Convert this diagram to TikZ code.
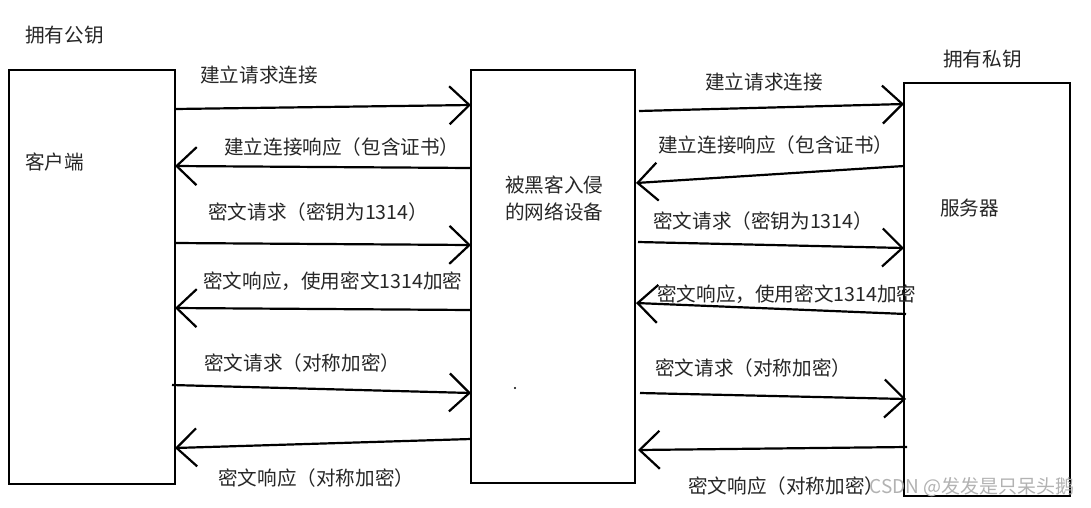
\documentclass[tikz,border=0pt]{standalone}
\usepackage{fontspec}
\newfontfamily\cjk{Noto Sans CJK SC}
\usetikzlibrary{arrows.meta,calc}
\tikzset{
  box/.style={draw, line width=2.4pt, outer sep=0pt, inner sep=0pt},
  arr/.style={line width=2.2pt, -{Straight Barb[length=20pt,width=38pt]}},
  lbl/.style={anchor=west, inner sep=0pt, text=black!85, font=\cjk\fontsize{19.6}{27}\selectfont},
  wmark/.style={inner sep=0pt, text=gray!60, font=\cjk\fontsize{19}{24}\selectfont}
}
\begin{document}
\begin{tikzpicture}[x=1pt,y=-1pt]
\useasboundingbox[fill=white] (0,0) rectangle (1091,507);
% boxes
\node[box, minimum width=166pt, minimum height=414pt] (client) at (92,277) {};
\node[box, minimum width=164pt, minimum height=413pt] (mitm) at (553,276.5) {};
\node[box, minimum width=166pt, minimum height=413pt] (server) at (987,289.5) {};
% box texts
\node[lbl] (tpub) at (25,35) {拥有公钥};
\node[lbl] (tpriv) at (943,59) {拥有私钥};
\node[lbl] (tclient) at (25,162) {客户端};
\node[lbl, align=left] (tmitm) at (505,198.5) {被黑客入侵\\的网络设备};
\node[lbl] (tserver) at (940,208) {服务器};
\fill (515,388) circle (1.2pt);
% left arrows
\draw[arr] ($(client.north east)+(0,39)$) -- ($(mitm.north west)+(0,35)$);
\draw[arr] ($(mitm.north west)+(0,98)$) -- ($(client.north east)+(0,96)$);
\draw[arr] ($(client.north east)+(0,173)$) -- ($(mitm.north west)+(0,175)$);
\draw[arr] ($(mitm.north west)+(0,240)$) -- ($(client.north east)+(0,238)$);
\draw[arr] ($(client.north east)+(-3,315)$) -- ($(mitm.north west)+(0,323)$);
\draw[arr] ($(mitm.north west)+(0,369)$) -- ($(client.north east)+(0,378)$);
% right arrows
\draw[arr] ($(mitm.north east)+(4,41)$) -- ($(server.north west)+(0,21)$);
\draw[arr] ($(server.north west)+(0,83)$) -- ($(mitm.north east)+(1,113)$);
\draw[arr] ($(mitm.north east)+(3,172)$) -- ($(server.north west)+(0,165)$);
\draw[arr] ($(server.north west)+(2,231)$) -- ($(mitm.north east)+(1,233)$);
\draw[arr] ($(mitm.north east)+(5,323)$) -- ($(server.north west)+(2,316)$);
\draw[arr] ($(server.north west)+(3,364)$) -- ($(mitm.north east)+(3,380)$);
% left labels
\node[lbl] (l1) at (200,75) {建立请求连接};
\node[lbl] (l2) at (224,147) {建立连接响应（包含证书）};
\node[lbl] (l3) at (208,212) {密文请求（密钥为1314）};
\node[lbl] (l4) at (203,281) {密文响应，使用密文1314加密};
\node[lbl] (l5) at (204,363) {密文请求（对称加密）};
\node[lbl] (l6) at (218,478) {密文响应（对称加密）};
% right labels
\node[lbl] (r1) at (705,82) {建立请求连接};
\node[lbl] (r2) at (658,145) {建立连接响应（包含证书）};
\node[lbl] (r3) at (653,221) {密文请求（密钥为1314）};
\node[lbl] (r4) at (657,294) {密文响应，使用密文1314加密};
\node[lbl] (r5) at (655,368) {密文请求（对称加密）};
\node[lbl] (r6) at (688,486) {密文响应（对称加密）};
% watermark
\node[wmark, anchor=east] (wm) at (1075,487) {CSDN @发发是只呆头鹅};
\end{tikzpicture}
\end{document}
